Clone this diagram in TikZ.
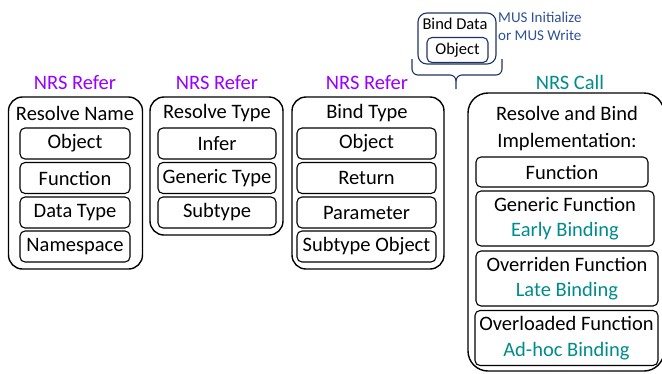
\documentclass[tikz,border=0pt]{standalone}
\usepackage{fontspec}
\setmainfont{Carlito}
\definecolor{refercol}{RGB}{153,0,255}
\definecolor{callcol}{RGB}{0,140,140}
\definecolor{muscol}{RGB}{47,80,150}
\definecolor{bindcol}{RGB}{30,50,100}
\begin{document}
\begin{tikzpicture}[x=1pt,y=-1pt]
	\tikzstyle{group}=[draw=black,line width=1.4pt,rounded corners=14pt,inner sep=0pt]
	\tikzstyle{item}=[draw=black,line width=1.1pt,rounded corners=5pt,minimum height=31pt,inner sep=0pt,font=\fontsize{20.5}{24}\selectfont]
	\tikzstyle{title}=[inner sep=0pt,font=\fontsize{20.5}{24}\selectfont]
	\tikzstyle{refer}=[title,text=refercol]
	\tikzstyle{call}=[title,text=callcol]
	\tikzstyle{twoline}=[item,minimum height=55pt,align=center,font=\fontsize{20.5}{25.5}\selectfont]
	\tikzstyle{brace}=[draw=bindcol,line width=1.1pt]

	\useasboundingbox (0,0) rectangle (662,373);

	% resolve name
	\node [group,minimum width=134pt,minimum height=172pt] (name) at (75.5,183) {};
	\node [refer] (name-lbl) at (75,83) {NRS Refer};
	\node [title] (name-ttl) at (75,113) {Resolve Name};
	\node [item,minimum width=110pt] (name-obj) at (75,143.5) {Object};
	\node [item,minimum width=110pt] (name-fun) at (75,178) {Function};
	\node [item,minimum width=110pt] (name-dat) at (75,212.5) {Data Type};
	\node [item,minimum width=110pt] (name-nsp) at (75,246.5) {Namespace};

	% resolve type
	\node [group,minimum width=133pt,minimum height=138pt] (type) at (216.5,166) {};
	\node [refer] (type-lbl) at (217,83) {NRS Refer};
	\node [title] (type-ttl) at (217,113) {Resolve Type};
	\node [item,minimum width=118pt] (type-inf) at (217,143.5) {Infer};
	\node [item,minimum width=118pt] (type-gen) at (217,178) {Generic Type};
	\node [item,minimum width=118pt] (type-sub) at (217,212.5) {Subtype};

	% bind type
	\node [group,minimum width=152pt,minimum height=172pt] (bind) at (368,183) {};
	\node [refer] (bind-lbl) at (367,83) {NRS Refer};
	\node [title] (bind-ttl) at (367,113) {Bind Type};
	\node [item,minimum width=139pt] (bind-obj) at (366.5,143.5) {Object};
	\node [item,minimum width=139pt] (bind-ret) at (366.5,178) {Return};
	\node [item,minimum width=139pt] (bind-par) at (366.5,212.5) {Parameter};
	\node [item,minimum width=139pt] (bind-sub) at (366.5,246.5) {Subtype Object};

	% bind data
	\node [group,draw=bindcol,rounded corners=9pt,line width=1.1pt,minimum width=78pt,minimum height=51pt] (data) at (457,38.5) {};
	\node [title,font=\fontsize{16.5}{19}\selectfont] (data-ttl) at (455,24) {Bind Data};
	\node [item,draw=bindcol,minimum width=61pt,minimum height=25pt,font=\fontsize{16.5}{19}\selectfont] (data-obj) at (457.5,50) {Object};
	\node [title,text=muscol,align=left,anchor=west,font=\fontsize{15}{18}\selectfont] (mus) at (498,26) {MUS Initialize\\or MUS Write};
	\coordinate (brace-l) at (412,59);
	\coordinate (brace-r) at (502,59);
	\coordinate (brace-tip) at (456,89);
	\path [brace] (brace-l) -- ++(0,10) to[out=-90,in=180] ++(6,6) -- (450,75)
		to[out=0,in=90] (456,81) -- (brace-tip);
	\path [brace] (brace-r) -- ++(0,10) to[out=-90,in=0] ++(-6,6) -- (462,75)
		to[out=180,in=90] (456,81);

	% call
	\node [group,minimum width=196pt,minimum height=278pt,rounded corners=20pt] (impl) at (566,232) {};
	\node [call] (impl-lbl) at (570,82) {NRS Call};
	\node [title,align=center,font=\fontsize{20.5}{27}\selectfont] (impl-ttl) at (567,128.5) {Resolve and Bind\\Implementation:};
	\node [item,minimum width=172pt,minimum height=30pt] (impl-fun) at (562,172) {Function};
	\node [twoline,minimum width=178pt] (impl-gen) at (565,218.5) {Generic Function\\\textcolor{callcol}{Early Binding}};
	\node [twoline,minimum width=182pt] (impl-ovr) at (567,278.5) {Overriden Function\\\textcolor{callcol}{Late Binding}};
	\node [twoline,minimum width=183pt] (impl-ovl) at (566.5,338) {Overloaded Function\\\textcolor{callcol}{Ad-hoc Binding}};

\end{tikzpicture}
\end{document}
